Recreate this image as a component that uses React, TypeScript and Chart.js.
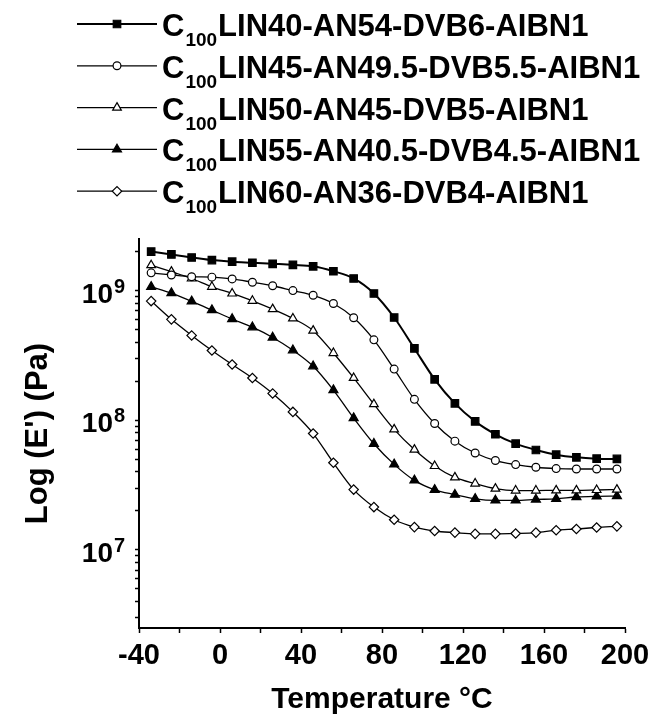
import React, { useEffect, useRef } from 'react';
import { Chart, registerables } from 'chart.js';
import { drawPoint } from 'chart.js/helpers';

Chart.register(...registerables);

// ---- data ----
const TEMPS = [-34, -24, -14, -4, 6, 16, 26, 36, 46, 56, 66, 76, 86, 96, 106, 116, 126, 136, 146, 156, 166, 176, 186, 196];

const LIN40 = [2.0e9, 1.9e9, 1.8e9, 1.72e9, 1.67e9, 1.64e9, 1.61e9, 1.58e9, 1.54e9, 1.41e9, 1.24e9, 9.5e8, 6.2e8, 3.58e8, 2.07e8, 1.35e8, 9.8e7, 7.8e7, 6.6e7, 5.9e7, 5.43e7, 5.18e7, 5.06e7, 5.03e7];
const LIN45 = [1.37e9, 1.32e9, 1.28e9, 1.27e9, 1.23e9, 1.16e9, 1.09e9, 1.0e9, 9.2e8, 7.96e8, 6.17e8, 4.17e8, 2.48e8, 1.45e8, 9.45e7, 6.9e7, 5.59e7, 4.89e7, 4.55e7, 4.34e7, 4.24e7, 4.21e7, 4.21e7, 4.21e7];
const LIN50 = [1.57e9, 1.4e9, 1.24e9, 1.07e9, 9.5e8, 8.34e8, 7.2e8, 6.1e8, 4.91e8, 3.3e8, 2.12e8, 1.33e8, 8.5e7, 5.94e7, 4.44e7, 3.63e7, 3.25e7, 2.97e7, 2.87e7, 2.87e7, 2.88e7, 2.88e7, 2.9e7, 2.92e7];
const LIN55 = [1.07e9, 9.57e8, 8.26e8, 7.07e8, 6.04e8, 5.22e8, 4.35e8, 3.47e8, 2.61e8, 1.71e8, 1.04e8, 6.59e7, 4.57e7, 3.44e7, 2.91e7, 2.67e7, 2.48e7, 2.41e7, 2.41e7, 2.45e7, 2.48e7, 2.56e7, 2.59e7, 2.6e7];
const LIN60 = [8.3e8, 6.0e8, 4.51e8, 3.45e8, 2.69e8, 2.12e8, 1.61e8, 1.16e8, 7.9e7, 4.7e7, 2.92e7, 2.14e7, 1.71e7, 1.5e7, 1.4e7, 1.36e7, 1.33e7, 1.33e7, 1.34e7, 1.36e7, 1.42e7, 1.45e7, 1.49e7, 1.52e7];

const SERIES_NAMES = [
  'LIN40-AN54-DVB6-AIBN1',
  'LIN45-AN49.5-DVB5.5-AIBN1',
  'LIN50-AN45-DVB5-AIBN1',
  'LIN55-AN40.5-DVB4.5-AIBN1',
  'LIN60-AN36-DVB4-AIBN1',
];
const NAME_PREFIX = 'C';
const NAME_SUB = '100';

const X_TICK_LABELS = [-40, 0, 40, 80, 120, 160, 200];
const Y_MAJOR = [1e7, 1e8, 1e9];
const Y_MAJOR_EXP = ['7', '8', '9'];
const Y_MIN = 2.5e6;
const Y_MAX = 2.5e9;
const X_MIN = -40;
const X_MAX = 200;
const X_TITLE = 'Temperature °C';
const Y_TITLE = "Log (E') (Pa)";

const FONT = '"Liberation Sans", Arial, Helvetica, sans-serif';

const SERIES_DATA = [LIN40, LIN45, LIN50, LIN55, LIN60];
const STYLES = [
  { pointStyle: 'rect', radius: 5.3, fill: '#000', lw: 2 },
  { pointStyle: 'circle', radius: 3.9, fill: '#fff', lw: 1.3 },
  { pointStyle: 'triangle', radius: 5, fill: '#fff', lw: 1.3 },
  { pointStyle: 'triangle', radius: 5.2, fill: '#000', lw: 1.3 },
  { pointStyle: 'rectRot', radius: 4.7, fill: '#fff', lw: 1.3 },
];

function yTickValues() {
  const out: number[] = [];
  for (const dec of [1e6, 1e7, 1e8, 1e9]) {
    for (let m = 1; m <= 9; m++) {
      const v = m * dec;
      if (v >= Y_MIN && v <= Y_MAX) out.push(v);
    }
  }
  return out;
}

const legendPlugin = {
  id: 'customLegend',
  afterDraw(chart: any) {
    const ctx = chart.ctx as CanvasRenderingContext2D;
    chart.data.datasets.forEach((ds: any, i: number) => {
      const y = 24 + i * 41.8;
      ctx.save();
      ctx.strokeStyle = '#000';
      ctx.lineWidth = ds.borderWidth;
      ctx.beginPath();
      ctx.moveTo(77, y);
      ctx.lineTo(157, y);
      ctx.stroke();
      ctx.fillStyle = ds.pointBackgroundColor;
      ctx.strokeStyle = '#000';
      ctx.lineWidth = 1.2;
      drawPoint(ctx, { pointStyle: ds.pointStyle, radius: ds.pointRadius, borderWidth: 1.2, rotation: 0 } as any, 117, y);
      ctx.fillStyle = '#000';
      ctx.textAlign = 'left';
      ctx.textBaseline = 'alphabetic';
      ctx.font = `bold 31px ${FONT}`;
      ctx.fillText(NAME_PREFIX, 162, y + 12);
      const cw = ctx.measureText(NAME_PREFIX).width;
      ctx.font = `bold 19px ${FONT}`;
      ctx.fillText(NAME_SUB, 162 + cw + 1, y + 22);
      const sw = ctx.measureText(NAME_SUB).width;
      ctx.font = `bold 31px ${FONT}`;
      ctx.fillText(SERIES_NAMES[i], 162 + cw + 1 + sw + 1, y + 12);
      ctx.restore();
    });
  },
};

const yLabelPlugin = {
  id: 'yLabels',
  afterDraw(chart: any) {
    const ctx = chart.ctx as CanvasRenderingContext2D;
    const ys = chart.scales.y;
    const xEnd = ys.right - 26;
    ctx.save();
    ctx.fillStyle = '#000';
    Y_MAJOR.forEach((v, i) => {
      const py = ys.getPixelForValue(v);
      ctx.font = `bold 28px ${FONT}`;
      ctx.textAlign = 'right';
      ctx.textBaseline = 'alphabetic';
      ctx.fillText('10', xEnd, py + 12);
      ctx.font = `bold 20px ${FONT}`;
      ctx.textAlign = 'left';
      ctx.fillText(Y_MAJOR_EXP[i], xEnd + 1, py + 2);
    });
    ctx.restore();
  },
};

export default function App() {
  const ref = useRef<HTMLCanvasElement>(null);
  useEffect(() => {
    if (!ref.current) return;
    const datasets = SERIES_DATA.map((arr, i) => ({
      label: NAME_PREFIX + NAME_SUB + SERIES_NAMES[i],
      data: TEMPS.map((t, k) => ({ x: t, y: arr[k] })),
      borderColor: '#000',
      borderWidth: STYLES[i].lw,
      pointStyle: STYLES[i].pointStyle,
      pointRadius: STYLES[i].radius,
      pointBackgroundColor: STYLES[i].fill,
      pointBorderColor: '#000',
      pointBorderWidth: 1.2,
      cubicInterpolationMode: 'monotone',
      fill: false,
    }));
    const chart = new Chart(ref.current, {
      type: 'line',
      data: { datasets } as any,
      options: {
        animation: false,
        responsive: false,
        devicePixelRatio: 1,
        layout: { padding: { left: 0, top: 239, right: 34, bottom: 0 } },
        plugins: { legend: { display: false }, tooltip: { enabled: false } },
        scales: {
          x: {
            type: 'linear',
            min: X_MIN,
            max: X_MAX,
            afterFit: (s: any) => { s.height = 87; },
            border: { display: true, color: '#000', width: 2 },
            grid: { drawOnChartArea: false, drawTicks: true, tickLength: 5, tickColor: '#000', tickWidth: 1.5 },
            ticks: {
              stepSize: 20,
              autoSkip: false,
              maxRotation: 0,
              padding: 6,
              color: '#000',
              font: { family: FONT, size: 29, weight: 'bold' },
              callback: (v: any) => (X_TICK_LABELS.includes(Number(v)) ? String(v) : ''),
            },
            title: {
              display: true,
              text: X_TITLE,
              color: '#000',
              font: { family: FONT, size: 30, weight: 'bold', lineHeight: 1 },
              padding: { top: 0, bottom: 0 },
            },
          },
          y: {
            type: 'logarithmic',
            min: Y_MIN,
            max: Y_MAX,
            afterFit: (s: any) => { s.width = 139; },
            afterBuildTicks: (s: any) => { s.ticks = yTickValues().map((v) => ({ value: v })); },
            border: { display: true, color: '#000', width: 2 },
            grid: { drawOnChartArea: false, drawTicks: true, tickLength: 4, tickColor: '#000', tickWidth: 1.5 },
            ticks: { autoSkip: false, callback: () => '', font: { size: 10 } },
            title: {
              display: true,
              text: Y_TITLE,
              color: '#000',
              font: { family: FONT, size: 31, weight: 'bold' },
              padding: { top: 20, bottom: 0 },
            },
          },
        },
      } as any,
      plugins: [legendPlugin, yLabelPlugin],
    });
    return () => chart.destroy();
  }, []);
  return (
    <div style={{ position: 'absolute', left: 0, top: 0, width: 659, height: 715, background: '#fff' }}>
      <canvas ref={ref} width={659} height={715} />
    </div>
  );
}
